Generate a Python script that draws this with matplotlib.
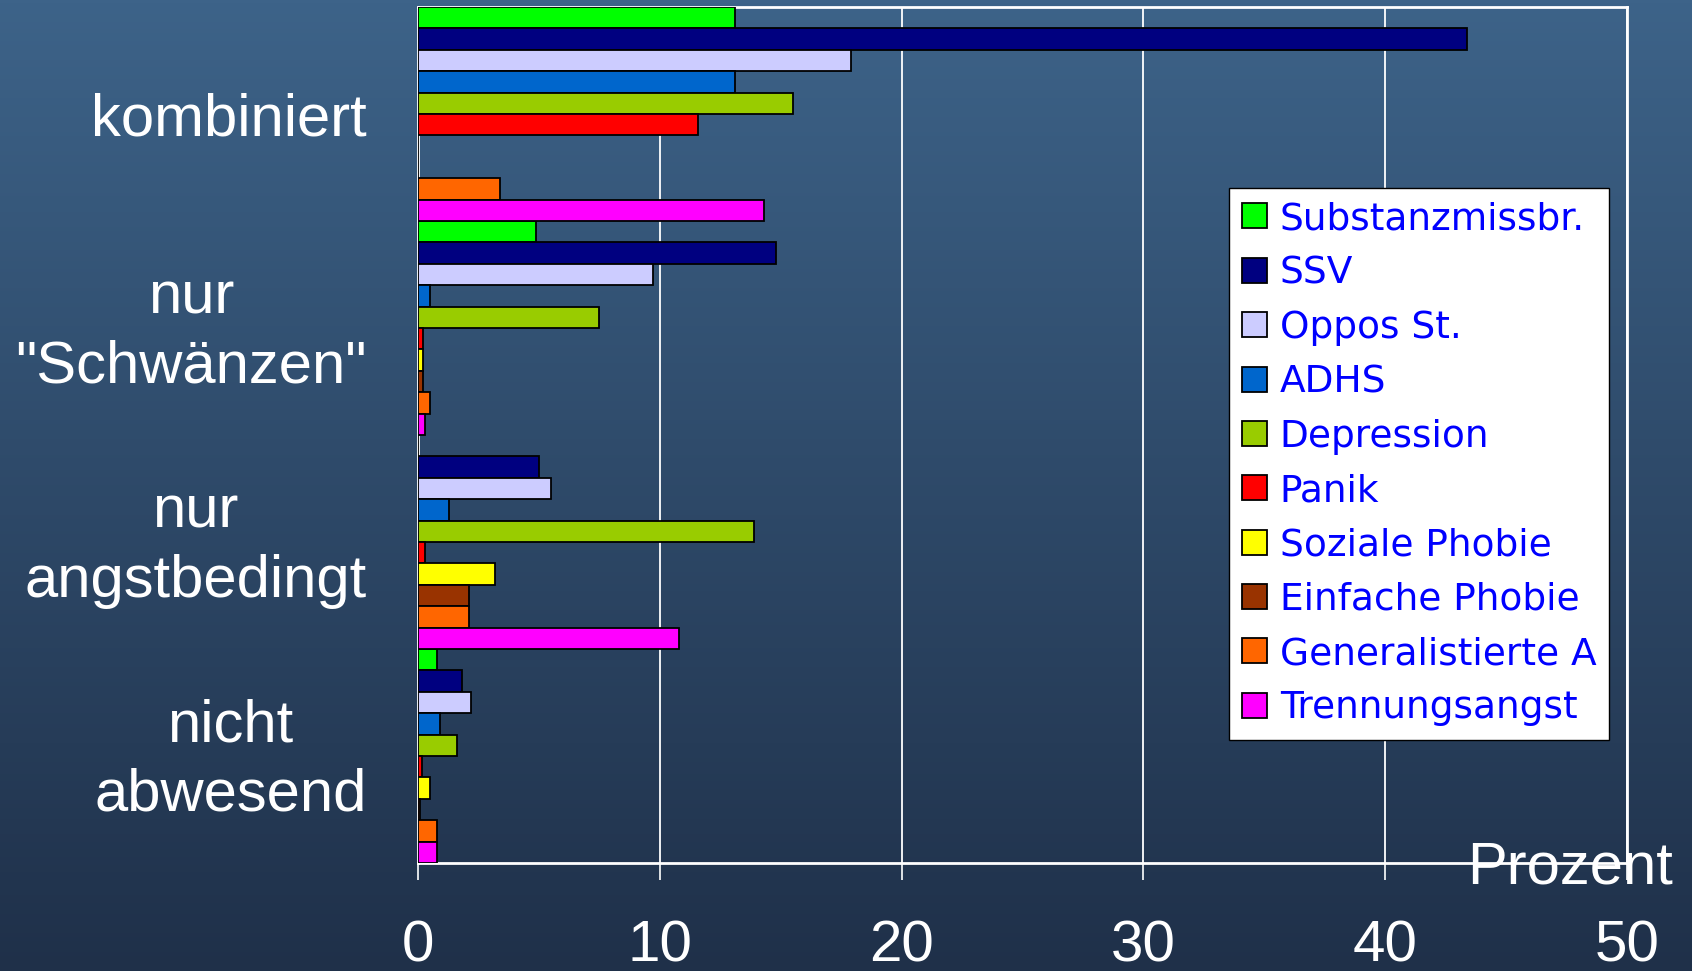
import numpy as np
import matplotlib
matplotlib.use("Agg")
import matplotlib.pyplot as plt
from matplotlib.colors import LinearSegmentedColormap
from matplotlib.transforms import ScaledTranslation

plt.rcParams['font.family'] = ['Liberation Sans', 'DejaVu Sans']

gruppen = ['kombiniert', 'nur\n"Schwänzen"', 'nur\nangstbedingt', 'nicht\nabwesend']
stoerungen = ['Substanzmissbr.', 'SSV', 'Oppos St.', 'ADHS', 'Depression', 'Panik',
              'Soziale Phobie', 'Einfache Phobie', 'Generalistierte A', 'Trennungsangst']
farben = ['#00ff00', '#000080', '#ccccff', '#0066cc', '#99cc00', '#ff0000',
          '#ffff00', '#993300', '#ff6600', '#ff00ff']

# Prozentwerte je Gruppe, Reihenfolge wie stoerungen
kombiniert = [13.1, 43.4, 17.9, 13.1, 15.5, 11.6, 0.0, 0.0, 3.4, 14.3]
nur_schwaenzen = [4.9, 14.8, 9.7, 0.5, 7.5, 0.2, 0.2, 0.2, 0.5, 0.3]
nur_angst = [0.0, 5.0, 5.5, 1.3, 13.9, 0.3, 3.2, 2.1, 2.1, 10.8]
nicht_abwesend = [0.8, 1.8, 2.2, 0.9, 1.6, 0.15, 0.5, 0.1, 0.8, 0.8]
werte = [kombiniert, nur_schwaenzen, nur_angst, nicht_abwesend]

W, H = 1692, 971
fig = plt.figure(figsize=(W / 100, H / 100), dpi=100)

# Hintergrund mit Farbverlauf
bg = fig.add_axes([0, 0, 1, 1], zorder=-10)
cmap = LinearSegmentedColormap.from_list('bg', ['#3d6389', '#1f3049'])
bg.imshow(np.linspace(0, 1, 256).reshape(-1, 1), aspect='auto', cmap=cmap,
          extent=[0, 1, 0, 1])
bg.axis('off')

ax = fig.add_axes([418 / W, 1 - 863 / H, (1627 - 418) / W, (863 - 7) / H])
ax.set_facecolor('none')

n = len(stoerungen)
for s, (name, farbe) in enumerate(zip(stoerungen, farben)):
    pos = [g * n + s for g in range(len(gruppen))]
    vals = [werte[g][s] for g in range(len(gruppen))]
    ax.barh(pos, vals, height=1.0, color=farbe, edgecolor='black',
            linewidth=1.3, label=name, zorder=3)

ax.set_ylim(len(gruppen) * n - 0.5, -0.5)
ax.set_xlim(0, 50)
ax.set_xticks([0, 10, 20, 30, 40, 50])
ax.set_yticks([g * n + (n - 1) / 2 for g in range(len(gruppen))])
ax.set_yticklabels(gruppen, multialignment='center', linespacing=1.33)
ax.tick_params(axis='y', length=0, pad=37, labelsize=43, labelcolor='white')
ax.tick_params(axis='x', length=12, width=1.2, color='white', pad=29,
               labelsize=42, labelcolor='white', direction='out')
ax.grid(axis='x', color='white', linewidth=1.3, zorder=1)
for sp in ax.spines.values():
    sp.set_color('white')
    sp.set_linewidth(2)

# zweizeilige Beschriftungen etwas anheben
for lab in ax.get_yticklabels():
    if '\n' in lab.get_text():
        lab.set_transform(lab.get_transform() +
                          ScaledTranslation(0, 0.085, fig.dpi_scale_trans))

fig.text(1673 / W, 1 - 883 / H, 'Prozent', color='white', fontsize=43,
         ha='right', va='baseline')

fig.legend(loc='upper left', bbox_to_anchor=(1229 / W, 1 - 188 / H),
           prop={'family': 'DejaVu Sans', 'size': 27}, labelcolor='#0000ff',
           frameon=True, fancybox=False,
           framealpha=1, facecolor='white', edgecolor='black',
           handlelength=0.65, handleheight=0.65, handletextpad=0.35,
           labelspacing=0.49, borderpad=0.35, borderaxespad=0)

fig.savefig('out.png', dpi=100)
